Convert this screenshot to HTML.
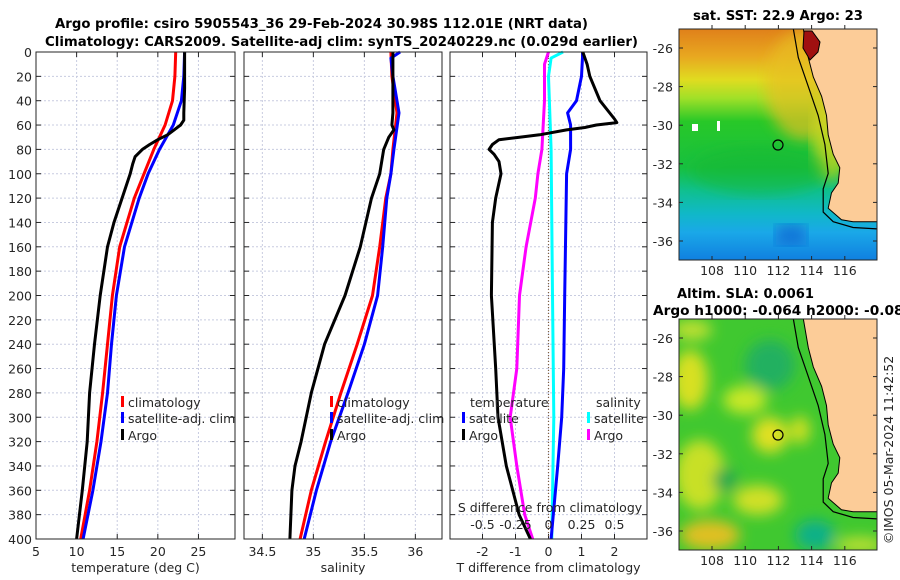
<!DOCTYPE html>
<html><head><meta charset="utf-8"><style>
html,body{margin:0;padding:0;background:#fff;}
svg{display:block;font-family:"DejaVu Sans","Liberation Sans",sans-serif;}
.tk{font-size:12.5px;fill:#262626;}
.tt{font-size:13px;font-weight:bold;fill:#000;}
.lg{font-size:12.5px;fill:#262626;}
</style></head><body>
<svg id="fig" width="900" height="580" viewBox="0 0 900 580">
<defs>
<linearGradient id="sstGrad" x1="0" y1="0" x2="0" y2="1">
<stop offset="0" stop-color="#e0801a"/><stop offset="0.12" stop-color="#e8a820"/>
<stop offset="0.22" stop-color="#e0dc20"/><stop offset="0.3" stop-color="#a0e028"/>
<stop offset="0.4" stop-color="#28c828"/><stop offset="0.6" stop-color="#18c040"/>
<stop offset="0.7" stop-color="#10c090"/><stop offset="0.8" stop-color="#10b8c8"/>
<stop offset="0.88" stop-color="#1aa8e8"/><stop offset="1" stop-color="#1080e0"/>
</linearGradient>
<filter id="blur6"><feGaussianBlur stdDeviation="7"/></filter>
<clipPath id="clipTop"><rect x="679" y="29" width="198" height="231"/></clipPath>
<clipPath id="clipBot"><rect x="679" y="319" width="198" height="231"/></clipPath>
</defs>

<text class="tt" x="55" y="28" textLength="533" lengthAdjust="spacingAndGlyphs">Argo profile: csiro 5905543_36 29-Feb-2024 30.98S 112.01E (NRT data)</text>
<text class="tt" x="45" y="46" textLength="593" lengthAdjust="spacingAndGlyphs">Climatology: CARS2009. Satellite-adj clim: synTS_20240229.nc (0.029d earlier)</text>

<g id="p1"></g>
<g id="p2"></g>
<g id="p3"></g>

<!-- Top map -->
<g>
<text class="tt" x="693" y="20" textLength="170" lengthAdjust="spacingAndGlyphs">sat. SST: 22.9 Argo: 23</text>
<g clip-path="url(#clipTop)">
<rect x="679" y="29" width="198" height="231" fill="url(#sstGrad)"/>
<ellipse cx="805" cy="85" rx="40" ry="55" fill="#e8c020" opacity="0.7" filter="url(#blur6)"/>
<ellipse cx="830" cy="140" rx="18" ry="40" fill="#d8d820" opacity="0.8" filter="url(#blur6)"/>
<ellipse cx="760" cy="170" rx="70" ry="25" fill="#18b830" opacity="0.5" filter="url(#blur6)"/>
<rect x="776" y="225" width="30" height="20" fill="#1060d0" opacity="0.7" filter="url(#blur6)"/>
<rect x="692" y="124" width="6" height="7" fill="#fff"/><rect x="717" y="121" width="3" height="10" fill="#fff"/>
<polygon id="landTop" fill="#fccc98" stroke="#000" stroke-width="1"/>
<polyline id="isoTop" fill="none" stroke="#000" stroke-width="1.2"/>
<polygon points="804,31 812,31 820,42 818,52 810,60 803,48" fill="#a01010" stroke="#000" stroke-width="1"/>
</g>
<rect x="679" y="29" width="198" height="231" fill="none" stroke="#262626" stroke-width="1"/>
<circle cx="778" cy="145" r="5" fill="none" stroke="#000" stroke-width="1.2"/>
<g id="axTop"></g>
</g>

<!-- Bottom map -->
<g>
<text class="tt" x="677" y="298" textLength="137" lengthAdjust="spacingAndGlyphs">Altim. SLA: 0.0061</text>
<text class="tt" x="653" y="315" textLength="260" lengthAdjust="spacingAndGlyphs">Argo h1000: -0.064 h2000: -0.087</text>
<g clip-path="url(#clipBot)">
<rect x="679" y="319" width="198" height="231" fill="#40c830"/>
<g filter="url(#blur6)">
<ellipse cx="690" cy="380" rx="18" ry="30" fill="#d8e020"/>
<ellipse cx="745" cy="400" rx="22" ry="14" fill="#c8e828"/>
<ellipse cx="770" cy="435" rx="18" ry="18" fill="#e0e020"/>
<ellipse cx="800" cy="430" rx="10" ry="14" fill="#d0e020"/>
<ellipse cx="700" cy="475" rx="25" ry="35" fill="#c8e028"/>
<ellipse cx="710" cy="535" rx="30" ry="15" fill="#e0c020"/>
<ellipse cx="758" cy="500" rx="25" ry="15" fill="#d0e028"/>
<ellipse cx="692" cy="330" rx="20" ry="10" fill="#c0e030"/>
<ellipse cx="770" cy="365" rx="25" ry="25" fill="#20b060"/>
<ellipse cx="725" cy="480" rx="12" ry="12" fill="#20a850"/>
<ellipse cx="815" cy="535" rx="20" ry="15" fill="#10b088"/>
<ellipse cx="860" cy="545" rx="25" ry="8" fill="#c0e030"/>
</g>
<polygon id="landBot" fill="#fccc98" stroke="#000" stroke-width="1"/>
<polyline id="isoBot" fill="none" stroke="#000" stroke-width="1.2"/>
</g>
<rect x="679" y="319" width="198" height="231" fill="none" stroke="#262626" stroke-width="1"/>
<circle cx="778" cy="435" r="5" fill="none" stroke="#000" stroke-width="1.2"/>
<g id="axBot"></g>
</g>
<text class="tk" transform="translate(893,450) rotate(-90)" text-anchor="middle">©IMOS 05-Mar-2024 11:42:52</text>
</svg>
<script>
// ---------- data ----------
const depthTicks=[0,20,40,60,80,100,120,140,160,180,200,220,240,260,280,300,320,340,360,380,400];
const tempTicks=[5,10,15,20,25];
const salTicks=[34.5,35,35.5,36];
const salTickLabels=["34.5","35","35.5","36"];
const dtTicks=[-2,-1,0,1,2];
const dsTicks=[-0.5,-0.25,0,0.25,0.5];
const dsTickLabels=["-0.5","-0.25","0","0.25","0.5"];
const latTicks=[-26,-28,-30,-32,-34,-36];
const lonTicks=[108,110,112,114,116];

const argoTDepth=[0,10,30,50,56,60,64,68,72,76,80,86,92,100,120,140,160,200,240,280,320,360,400];
const argoT=[23.3,23.3,23.3,23.2,23.2,22.8,22.0,21.2,20.0,19.0,18.1,17.2,16.9,16.6,15.6,14.6,13.8,12.9,12.2,11.6,11.3,10.7,10.0];
const climTDepth=[0,20,40,60,80,100,120,160,200,240,280,320,360,400];
const climT=[22.2,22.1,21.8,20.9,19.5,18.3,17.1,15.3,14.4,13.8,13.2,12.5,11.6,10.5];
const satTDepth=[0,20,40,60,80,100,120,160,200,240,280,320,360,400];
const satT=[23.3,23.2,22.9,21.9,20.2,18.8,17.7,15.9,14.9,14.3,13.8,13.0,12.0,10.8];

const argoSDepth=[0,10,30,50,60,64,70,80,100,120,160,200,240,280,320,340,360,400];
const argoS=[35.78,35.78,35.78,35.78,35.77,35.79,35.74,35.69,35.65,35.57,35.46,35.31,35.11,34.98,34.88,34.82,34.79,34.77];
const climSDepth=[0,20,50,80,100,120,160,200,240,280,320,360,400];
const climS=[35.76,35.77,35.82,35.78,35.76,35.71,35.65,35.58,35.43,35.27,35.12,34.98,34.87];
const satSDepth=[0,5,20,50,80,100,120,160,200,240,280,320,360,400];
const satS=[35.85,35.76,35.78,35.84,35.79,35.76,35.72,35.68,35.63,35.5,35.34,35.17,35.03,34.91];

const dTArgoDepth=[0,10,20,40,55,58,60,62,64,68,70,72,76,80,84,90,100,120,140,200,260,300,340,380,400];
const dTArgo=[1.04,1.17,1.25,1.56,2.0,2.07,1.45,1.1,0.55,-0.27,-0.88,-1.5,-1.7,-1.8,-1.65,-1.5,-1.44,-1.6,-1.7,-1.73,-1.6,-1.53,-1.28,-0.89,-0.55];
const dTSatDepth=[0,20,40,50,60,80,100,200,260,300,340,400];
const dTSat=[1.04,1.0,0.85,0.58,0.67,0.67,0.55,0.49,0.46,0.4,0.28,0.08];
const dSArgoDepth=[0,10,40,80,100,120,160,200,260,300,340,380,400];
const dSArgo=[0.0,-0.03,-0.03,-0.05,-0.08,-0.1,-0.17,-0.22,-0.24,-0.29,-0.24,-0.18,-0.12];
const dSSatDepth=[0,5,20,80,200,300,400];
const dSSat=[0.11,0.02,0.0,0.02,0.03,0.04,0.025];

const coastLon=[113.5,113.8,114.1,114.6,114.9,115.0,115.3,115.7,115.6,115.2,115.0,115.8,116.5,118.5];
const coastLat=[-25,-26.5,-27.5,-28.5,-29.5,-30.5,-31.5,-32.2,-33.0,-33.5,-34.3,-34.9,-35.0,-35.0];
const isoLon=[112.9,113.2,113.8,114.4,114.8,115.0,114.7,114.7,115.3,116.5,118.5];
const isoLat=[-25,-26.5,-28,-29.5,-31,-32.5,-33.3,-34.5,-35,-35.3,-35.4];

// ---------- helpers ----------
const NS="http://www.w3.org/2000/svg";
function mk(parent,tag,attrs){const e=document.createElementNS(NS,tag);for(const k in attrs)e.setAttribute(k,attrs[k]);parent.appendChild(e);return e;}
const TOP=52,BOT=539;
function yD(d){return TOP+d*(BOT-TOP)/400;}

function panel(g,x0,x1,xfun,xt,xtl,xlabel,showY){
  mk(g,'rect',{x:x0,y:TOP,width:x1-x0,height:BOT-TOP,fill:'#fff'});
  depthTicks.forEach(d=>{
    const l=mk(g,'line',{x1:x0,x2:x1,y1:yD(d),y2:yD(d),stroke:'#c8cce0','stroke-dasharray':'2,2','stroke-width':1});
    
    mk(g,'line',{x1:x0,x2:x0+5,y1:yD(d),y2:yD(d),stroke:'#262626'});
    mk(g,'line',{x1:x1-5,x2:x1,y1:yD(d),y2:yD(d),stroke:'#262626'});
    if(showY){const t=mk(g,'text',{x:x0-4,y:yD(d)+5,'text-anchor':'end',class:'tk'});t.textContent=d;
      }
  });
  xt.forEach((v,i)=>{
    const x=xfun(v);
    const l=mk(g,'line',{x1:x,x2:x,y1:TOP,y2:BOT,stroke:'#c8cce0','stroke-dasharray':'2,2'});
    
    mk(g,'line',{x1:x,x2:x,y1:BOT-5,y2:BOT,stroke:'#262626'});
    mk(g,'line',{x1:x,x2:x,y1:TOP,y2:TOP+5,stroke:'#262626'});
    const t=mk(g,'text',{x:x,y:BOT+17,'text-anchor':'middle',class:'tk'});t.textContent=xtl[i];
    
  });
  const t=mk(g,'text',{x:(x0+x1)/2,y:BOT+33,'text-anchor':'middle',class:'tk'});t.textContent=xlabel;
  
}
function border(g,x0,x1){mk(g,'rect',{x:x0,y:TOP,width:x1-x0,height:BOT-TOP,fill:'none',stroke:'#262626','stroke-width':1});}
function line(g,depths,vals,xfun,color,name,w){
  const p=mk(g,'polyline',{points:depths.map((d,i)=>xfun(vals[i]).toFixed(1)+','+yD(d).toFixed(1)).join(' '),fill:'none',stroke:color,'stroke-width':w||3,'stroke-linejoin':'round'});
  
}
function legItem(g,x,y,color,label,name){
  mk(g,'rect',{x:x,y:y-11,width:3,height:11,fill:color});
  const t=mk(g,'text',{x:x+7,y:y,class:'lg'});t.textContent=label;
  
}

// Panel 1
const p1=document.getElementById('p1');
const xT=v=>36+(v-5)*(235-36)/24.5;
panel(p1,36,235,xT,tempTicks,tempTicks.map(String),'temperature (deg C)',true);
line(p1,climTDepth,climT,xT,'#ff0000','clim-temperature-line');
line(p1,satTDepth,satT,xT,'#0000ff','sat-temperature-line');
line(p1,argoTDepth,argoT,xT,'#000000','argo-temperature-line');
border(p1,36,235);
legItem(p1,121,407,'#ff0000','climatology','legend-climatology');
legItem(p1,121,423,'#0000ff','satellite-adj. clim','legend-satellite-adj');
legItem(p1,121,440,'#000000','Argo','legend-argo');

// Panel 2
const p2=document.getElementById('p2');
const xS=v=>244+(v-34.32)*102;
panel(p2,244,442,xS,salTicks,salTickLabels,'salinity',false);
line(p2,climSDepth,climS,xS,'#ff0000','clim-salinity-line');
line(p2,satSDepth,satS,xS,'#0000ff','sat-salinity-line');
line(p2,argoSDepth,argoS,xS,'#000000','argo-salinity-line');
border(p2,244,442);
legItem(p2,330,407,'#ff0000','climatology','legend-climatology-s');
legItem(p2,330,423,'#0000ff','satellite-adj. clim','legend-satellite-adj-s');
legItem(p2,330,440,'#000000','Argo','legend-argo-s');

// Panel 3
const p3=document.getElementById('p3');
const xdT=v=>548.5+v*33;
const xdS=v=>548.5+v*132;
panel(p3,450,647,xdT,dtTicks,dtTicks.map(String),'T difference from climatology',false);
mk(p3,'line',{x1:xdT(0),x2:xdT(0),y1:TOP,y2:BOT,stroke:'#806040','stroke-dasharray':'1,2','stroke-width':1.2});
line(p3,dSSatDepth,dSSat,xdS,'#00ffff','sat-salinity-diff-line');
line(p3,dSArgoDepth,dSArgo,xdS,'#ff00ff','argo-salinity-diff-line');
line(p3,dTSatDepth,dTSat,xdT,'#0000ff','sat-temperature-diff-line');
line(p3,dTArgoDepth,dTArgo,xdT,'#000000','argo-temperature-diff-line');
border(p3,450,647);
{const t=mk(p3,'text',{x:470,y:407,class:'lg'});t.textContent='temperature';}
{const t=mk(p3,'text',{x:596,y:407,class:'lg'});t.textContent='salinity';}
legItem(p3,462,423,'#0000ff','satellite','legend-temp-satellite');
legItem(p3,462,440,'#000000','Argo','legend-temp-argo');
legItem(p3,587,423,'#00ffff','satellite','legend-sal-satellite');
legItem(p3,587,440,'#ff00ff','Argo','legend-sal-argo');
{const t=mk(p3,'text',{x:550,y:512,'text-anchor':'middle',class:'lg'});t.textContent='S difference from climatology';}
dsTicks.forEach((v,i)=>{const t=mk(p3,'text',{x:xdS(v),y:529,'text-anchor':'middle',class:'lg'});t.textContent=dsTickLabels[i];
  });

// Maps
function mapAxes(gid,top,landId,isoId){
  const g=document.getElementById(gid);
  const lx=v=>712+(v-108)*16.6;
  const ly=v=>top+19+(-26-v)*19.3;
  latTicks.forEach(v=>{
    const y=ly(v);
    mk(g,'line',{x1:679,x2:683,y1:y,y2:y,stroke:'#262626'});
    mk(g,'line',{x1:873,x2:877,y1:y,y2:y,stroke:'#262626'});
    const t=mk(g,'text',{x:673,y:y+5,'text-anchor':'end',class:'tk'});t.textContent=v;
    
  });
  lonTicks.forEach(v=>{
    const x=lx(v);
    mk(g,'line',{x1:x,x2:x,y1:top+227,y2:top+231,stroke:'#262626'});
    mk(g,'line',{x1:x,x2:x,y1:top-4,y2:top,stroke:'#262626'});
    const t=mk(g,'text',{x:x,y:top+246,'text-anchor':'middle',class:'tk'});t.textContent=v;
    
  });
  const land=coastLon.map((v,i)=>lx(v).toFixed(1)+','+ly(coastLat[i]).toFixed(1));
  land.push(lx(118.5)+','+ly(-25)); 
  document.getElementById(landId).setAttribute('points',land.join(' '));
  document.getElementById(isoId).setAttribute('points',isoLon.map((v,i)=>lx(v).toFixed(1)+','+ly(isoLat[i]).toFixed(1)).join(' '));
}
mapAxes('axTop',29,'landTop','isoTop');
mapAxes('axBot',319,'landBot','isoBot');
</script>
</body></html>
